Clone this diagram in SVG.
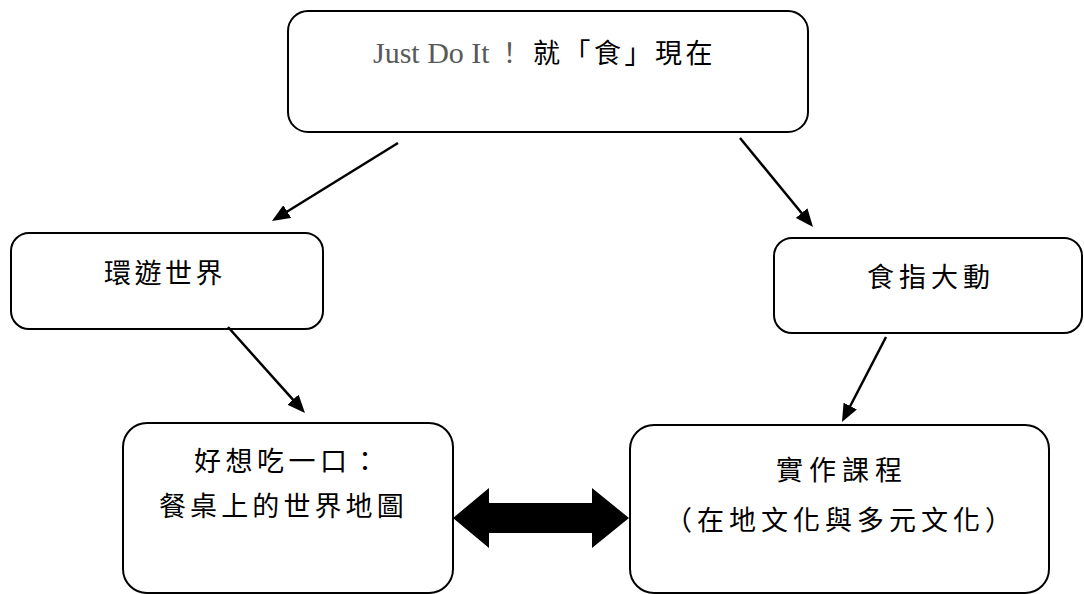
<svg xmlns="http://www.w3.org/2000/svg" width="1084" height="594" viewBox="0 0 1084 594">
  <style>
    .box { fill: #ffffff; stroke: #000000; stroke-width: 2; }
    .cjk { font-family: "Noto Sans CJK TC", "Noto Sans CJK SC", sans-serif; font-size: 27px; fill: #000000; }
    .lat { font-family: "Liberation Serif", "Times New Roman", serif; font-size: 30px; fill: #595959; }
    .conn { stroke: #000000; stroke-width: 2.5; fill: none; marker-end: url(#ah); }
  </style>
  <defs>
    <marker id="ah" viewBox="0 0 18 15" refX="9" refY="7.5" markerWidth="18" markerHeight="15" markerUnits="userSpaceOnUse" orient="auto">
      <path d="M0,0 L18,7.5 L0,15 z" fill="#000000"/>
    </marker>
  </defs>
  <rect width="1084" height="594" fill="#ffffff"/>

  <g id="node-top">
    <rect class="box" x="288" y="11" width="520" height="121" rx="20" ry="20"/>
    <text y="63"><tspan class="lat" x="373">Just Do It</tspan><tspan class="cjk" x="496" style="fill:#595959">！</tspan><tspan class="cjk" x="533" style="letter-spacing:3.5px">就「食」現在</tspan></text>
  </g>

  <g id="node-left">
    <rect class="box" x="11" y="233" width="312" height="96" rx="18" ry="18"/>
    <text class="cjk" x="104" y="283" style="letter-spacing:3.5px">環遊世界</text>
  </g>

  <g id="node-right">
    <rect class="box" x="774" y="238" width="308" height="95" rx="18" ry="18"/>
    <text class="cjk" x="867" y="287" style="letter-spacing:5px">食指大動</text>
  </g>

  <g id="node-bottom-left">
    <rect class="box" x="123" y="423" width="330" height="170" rx="24" ry="24"/>
    <text class="cjk" x="194" y="471" style="letter-spacing:4.5px">好想吃一口：</text>
    <text class="cjk" x="159" y="516" style="letter-spacing:4.1px">餐桌上的世界地圖</text>
  </g>

  <g id="node-bottom-right">
    <rect class="box" x="630" y="425" width="419" height="168" rx="24" ry="24"/>
    <text class="cjk" x="776" y="480" style="letter-spacing:6px">實作課程</text>
    <text class="cjk" x="665" y="530" style="letter-spacing:5px">（在地文化與多元文化）</text>
  </g>

  <g id="connectors">
    <line class="conn" x1="398" y1="143" x2="279.6" y2="216.3"/>
    <line class="conn" x1="740" y1="138" x2="807.3" y2="220"/>
    <line class="conn" x1="228" y1="327" x2="299" y2="406.3"/>
    <line class="conn" x1="886" y1="337" x2="846.1" y2="414"/>
    <polygon points="453,518 489,488 489,503 592,503 592,488 629,518 592,548 592,533 489,533 489,548" fill="#000000"/>
  </g>
</svg>
